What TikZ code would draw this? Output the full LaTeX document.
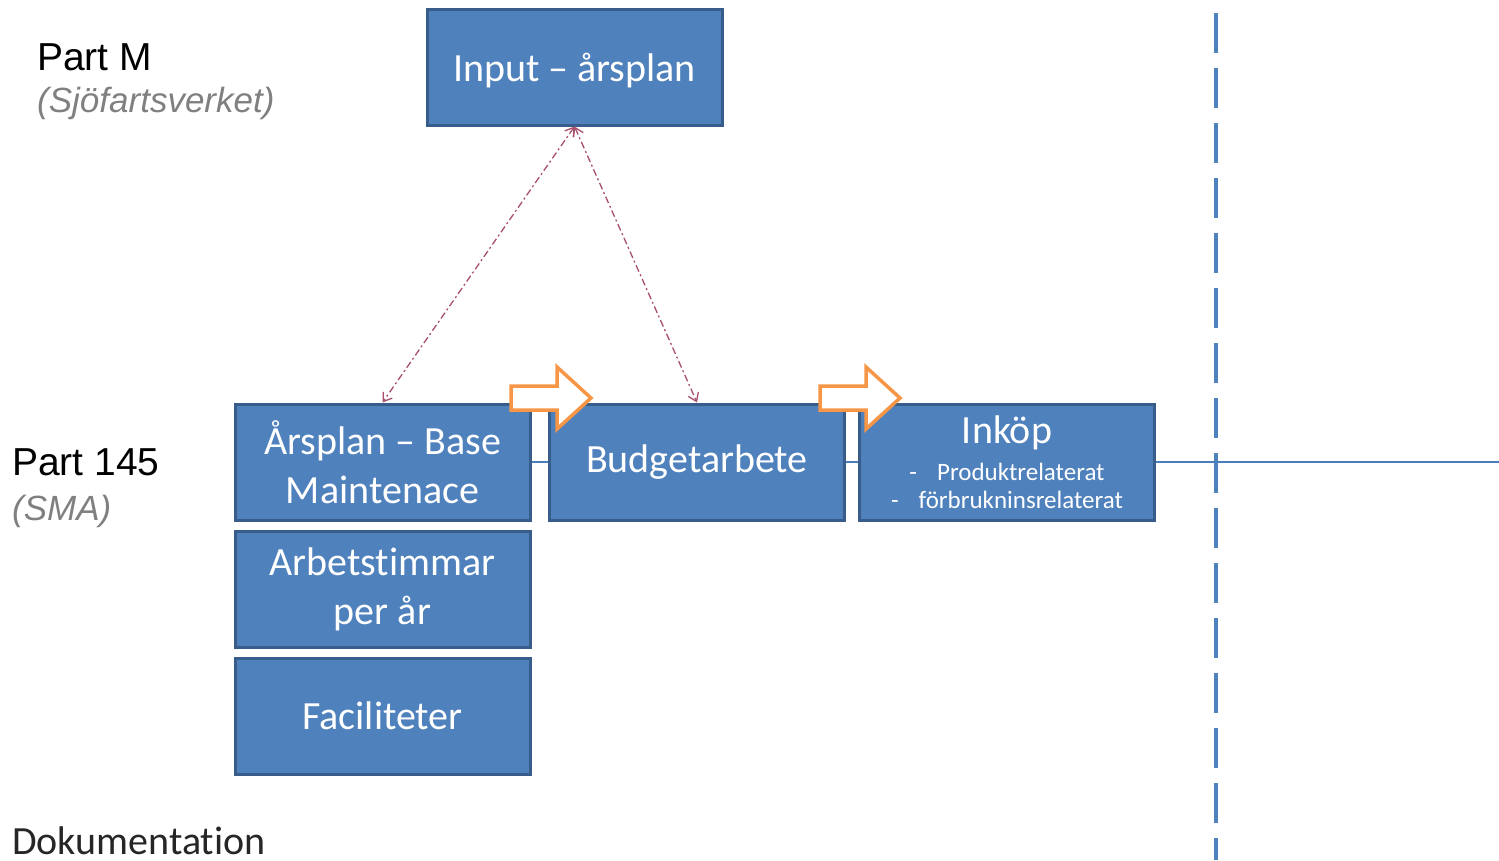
\documentclass[tikz,border=0pt]{standalone}
\usepackage{fontspec}
\setmainfont{Carlito}[Ligatures=NoCommon]
\newfontfamily\arialfont{Liberation Sans}
\usetikzlibrary{arrows.meta,backgrounds}

\definecolor{boxfill}{HTML}{4F81BD}
\definecolor{boxline}{HTML}{385D8A}
\definecolor{floworange}{HTML}{F79646}
\definecolor{linkred}{HTML}{A8506A}
\definecolor{partgray}{HTML}{808080}
\definecolor{axisblue}{HTML}{4A7EBB}

\tikzset{
  stepbox/.style={draw=boxline, fill=boxfill, line width=3pt,
    minimum width=295pt, minimum height=116pt, inner sep=0pt,
    text=white, align=center, font=\fontsize{40}{49}\selectfont},
  partlabel/.style={anchor=base west, inner sep=0pt, text=black,
    font=\arialfont\fontsize{39}{44}\selectfont},
  partsub/.style={anchor=base west, inner sep=0pt, text=partgray,
    font=\arialfont\itshape\fontsize{35}{40}\selectfont},
  doclabel/.style={anchor=base west, inner sep=0pt, text=black!85,
    font=\fontsize{40}{48}\selectfont},
  flowarrow/.style={draw=floworange, fill=white, line width=3.5pt, line join=miter},
  link/.style={draw=linkred, line width=1.3pt,
    dash pattern=on 7pt off 3pt on 2pt off 3pt,
    {Straight Barb[length=8pt,width=11pt]}-{Straight Barb[length=8pt,width=11pt]}},
  axisline/.style={draw=axisblue, line width=1.5pt},
  divider/.style={draw=boxfill, line width=4pt, dash pattern=on 40pt off 15pt}
}

\begin{document}
\begin{tikzpicture}[x=1pt, y=-1pt]
  \useasboundingbox (0,0) rectangle (1499,860);

  % row labels
  \node[partlabel] (pm) at (37,70) {Part M};
  \node[partsub] (pms) at (37,112) {(Sjöfartsverket)};
  \node[partlabel] (p145) at (12,475) {Part 145};
  \node[partsub] (p145s) at (12,520) {(SMA)};
  \node[doclabel] (dok) at (12,854) {Dokumentation};

  % process boxes
  \node[stepbox, text height=37pt, text depth=8.5pt] (inp) at (574.5,67) {Input -- årsplan};
  \node[stepbox] (ars) at (382.5,462) {Årsplan -- Base\\Maintenace};
  \node[stepbox] (arb) at (382.5,589) {Arbetstimmar\\per år};
  \node[stepbox] (fac) at (382.5,716) {Faciliteter};
  \node[stepbox] (bud) at (697,462)   {Budgetarbete};
  \node[stepbox, font=\fontsize{25}{28}\selectfont] (ink) at (1007,462)
    {{\fontsize{40}{40}\selectfont Inköp}\\[9pt]
     -\hspace{20pt}Produktrelaterat\\
     -\hspace{20pt}förbrukninsrelaterat};

  % horizontal time line behind the boxes
  \coordinate (axisR) at (1499,462);
  \begin{scope}[on background layer]
    \draw[axisline] (ars.center) -- (axisR);
  \end{scope}

  % vertical divider
  \coordinate (divT) at (1216,13);
  \coordinate (divB) at (1216,860);
  \draw[divider] (divT) -- (divB);

  % links from the yearly plan input
  \draw[link] (inp.south) -- (ars.north);
  \draw[link] (inp.south) -- (bud.north);

  % block arrows between the steps
  \coordinate (fa1) at (511,398);
  \coordinate (fa2) at (820,398);
  \foreach \a in {fa1,fa2}
    \draw[flowarrow] (\a) -- ++(0,-12) -- ++(46,0) -- ++(0,-19) -- ++(34,31)
      -- ++(-34,31) -- ++(0,-19) -- ++(-46,0) -- cycle;
\end{tikzpicture}
\end{document}
